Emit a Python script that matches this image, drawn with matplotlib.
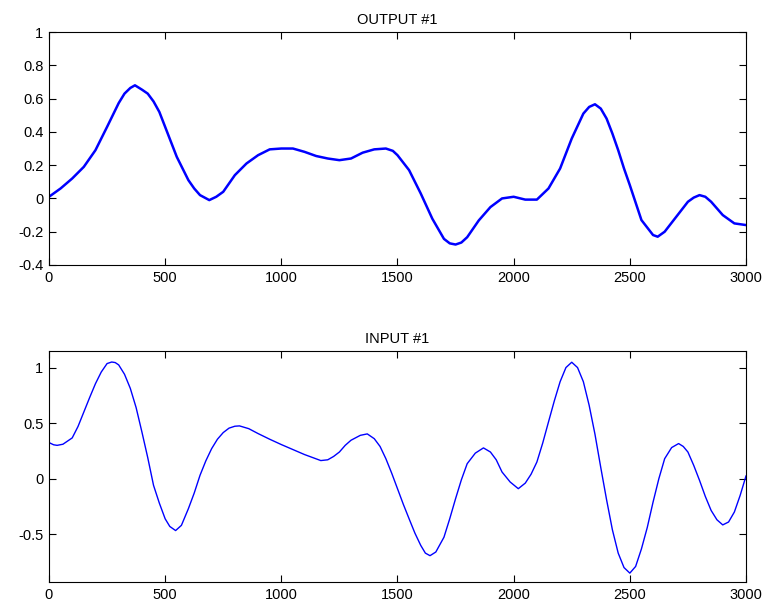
import matplotlib
matplotlib.use('Agg')
import matplotlib.pyplot as plt

# values
out_x = [0, 50, 100, 150, 200, 250, 300, 325, 350, 370, 400, 425, 450, 475, 500, 525, 550,
         575, 600, 625, 650, 690, 720, 750, 800, 850, 900, 950, 1000, 1050, 1100, 1150,
         1200, 1250, 1300, 1350, 1400, 1450, 1480, 1500, 1550, 1600, 1650, 1700, 1725,
         1750, 1775, 1800, 1850, 1900, 1950, 2000, 2050, 2100, 2150, 2200, 2250, 2300,
         2325, 2350, 2375, 2400, 2425, 2450, 2475, 2500, 2550, 2600, 2620, 2650, 2700,
         2750, 2775, 2800, 2825, 2850, 2900, 2950, 3000]
out_y = [0.01, 0.06, 0.12, 0.19, 0.29, 0.43, 0.573, 0.63, 0.664, 0.68, 0.654, 0.63, 0.583,
         0.52, 0.43, 0.34, 0.25, 0.18, 0.11, 0.06, 0.02, -0.01, 0.01, 0.04, 0.14, 0.21,
         0.26, 0.295, 0.30, 0.30, 0.28, 0.255, 0.24, 0.23, 0.24, 0.275, 0.295, 0.30, 0.286,
         0.26, 0.17, 0.03, -0.122, -0.243, -0.27, -0.277, -0.265, -0.233, -0.132, -0.052,
         0.0, 0.01, -0.007, -0.007, 0.06, 0.18, 0.36, 0.51, 0.55, 0.566, 0.54, 0.48, 0.39,
         0.29, 0.18, 0.08, -0.13, -0.22, -0.23, -0.20, -0.11, -0.02, 0.005, 0.02, 0.01,
         -0.02, -0.10, -0.15, -0.16]

in_x = [0, 20, 35, 60, 100, 125, 150, 175, 200, 225, 250, 270, 285, 300, 325, 350, 375, 400,
        425, 450, 475, 500, 520, 545, 570, 600, 625, 650, 675, 700, 725, 750, 775, 800,
        820, 860, 900, 950, 1000, 1100, 1170, 1200, 1225, 1250, 1275, 1300, 1340, 1370,
        1400, 1425, 1450, 1475, 1500, 1525, 1550, 1575, 1600, 1620, 1640, 1665, 1700, 1725,
        1750, 1775, 1800, 1835, 1870, 1900, 1925, 1950, 1985, 2020, 2050, 2075, 2100, 2125,
        2150, 2175, 2200, 2225, 2250, 2275, 2300, 2325, 2350, 2375, 2400, 2425, 2450, 2475,
        2500, 2525, 2550, 2575, 2600, 2625, 2650, 2680, 2710, 2730, 2750, 2775, 2800, 2825,
        2850, 2875, 2900, 2925, 2950, 2975, 3000]
in_y = [0.325, 0.305, 0.30, 0.31, 0.367, 0.47, 0.60, 0.73, 0.855, 0.96, 1.036, 1.05, 1.045,
        1.024, 0.94, 0.813, 0.64, 0.42, 0.19, -0.06, -0.22, -0.361, -0.43, -0.467, -0.42,
        -0.27, -0.13, 0.03, 0.16, 0.27, 0.355, 0.415, 0.455, 0.472, 0.475, 0.45, 0.406,
        0.355, 0.307, 0.217, 0.163, 0.17, 0.2, 0.24, 0.3, 0.346, 0.39, 0.403, 0.36, 0.29,
        0.18, 0.05, -0.09, -0.23, -0.361, -0.49, -0.60, -0.67, -0.693, -0.66, -0.527, -0.36,
        -0.18, -0.01, 0.135, 0.23, 0.277, 0.24, 0.17, 0.06, -0.03, -0.09, -0.04, 0.04, 0.15,
        0.32, 0.511, 0.70, 0.873, 1.0, 1.048, 1.0, 0.873, 0.66, 0.40, 0.1, -0.19, -0.46,
        -0.67, -0.80, -0.85, -0.79, -0.632, -0.44, -0.211, 0.0, 0.18, 0.28, 0.316, 0.29,
        0.24, 0.12, -0.015, -0.16, -0.286, -0.37, -0.416, -0.39, -0.30, -0.15, 0.024]

plt.rcParams['font.family'] = ['Liberation Sans', 'DejaVu Sans']
plt.rcParams['axes.unicode_minus'] = False

fig = plt.figure(figsize=(7.63, 6.05), dpi=100)
ax1 = fig.add_axes([0.0642, 0.562, 0.9135, 0.385])
ax2 = fig.add_axes([0.0642, 0.038, 0.9135, 0.382])

ax1.plot(out_x, out_y, color='blue', linewidth=1.8)
ax1.set_xlim(0, 3000)
ax1.set_ylim(-0.4, 1)
ax1.set_yticks([-0.4, -0.2, 0, 0.2, 0.4, 0.6, 0.8, 1])
ax1.set_title('OUTPUT #1', fontsize=10.5, pad=6)

ax2.plot(in_x, in_y, color='blue', linewidth=1.0)
ax2.set_xlim(0, 3000)
ax2.set_ylim(-0.93, 1.15)
ax2.set_yticks([-0.5, 0, 0.5, 1])
ax2.set_title('INPUT #1', fontsize=10.5, pad=6)

for ax in (ax1, ax2):
    ax.set_xticks([0, 500, 1000, 1500, 2000, 2500, 3000])
    ax.set_yticklabels(['%g' % t for t in ax.get_yticks()])
    ax.tick_params(direction='in', top=True, right=True, length=5, width=0.8,
                   labelsize=10.5, pad=4)
    for s in ax.spines.values():
        s.set_linewidth(0.8)

fig.savefig('out.png', dpi=100)
